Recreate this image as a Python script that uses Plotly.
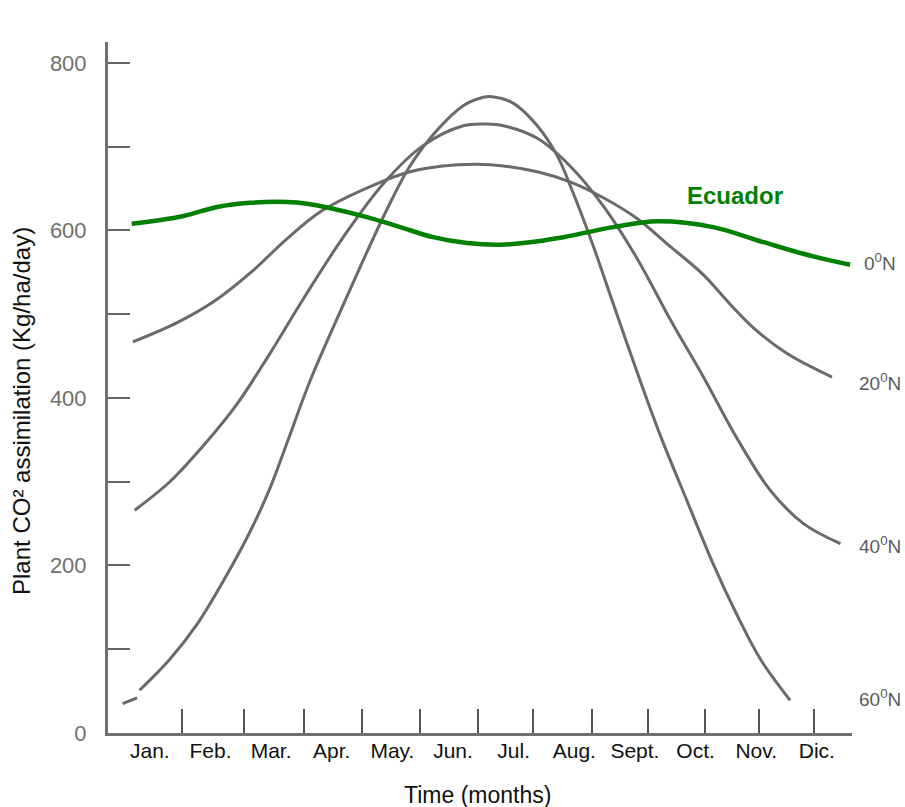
import plotly.graph_objects as go

# Month label positions (index) and tick labels
months = ["Jan.", "Feb.", "Mar.", "Apr.", "May.", "Jun.", "Jul.", "Aug.", "Sept.", "Oct.", "Nov.", "Dic."]
month_pos = list(range(12))
# x-axis tick marks (between months)
x_tick_marks = [0.53, 1.55, 2.54, 3.50, 4.46, 5.41, 6.32, 7.29, 8.22, 9.16, 10.05, 10.96]

y_labels_vals = [0, 200, 400, 600, 800]
y_labels_text = ["0", "200", "400", "600", "800"]
y_minor_vals = [100, 300, 500, 700]

# Ecuador (green)
ecu_x = [-0.30, 0.54, 1.11, 1.65, 2.26, 2.59, 3.02, 3.58, 4.13, 4.67, 5.23, 5.78, 6.16, 6.82, 7.64, 8.37, 9.29, 10.12, 10.94, 11.55]
ecu_y = [608, 617, 628, 633, 634, 632, 626, 616, 604, 592, 585, 583, 585, 592, 604, 611, 604, 586, 569, 559]

# 20 N
n20_x = [-0.28, 0.45, 1.11, 1.70, 2.26, 2.85, 3.75, 4.29, 4.83, 5.40, 5.83, 6.39, 6.93, 7.48, 8.04, 8.58, 9.13, 9.57, 9.95, 10.51, 11.25]
n20_y = [467, 490, 518, 552, 590, 624, 656, 670, 677, 679, 677, 670, 658, 639, 614, 581, 547, 512, 484, 453, 425]

# 40 N
n40_x = [-0.25, 0.33, 0.87, 1.44, 1.98, 2.52, 3.19, 3.84, 4.50, 5.17, 5.56, 5.83, 6.39, 6.93, 7.48, 8.04, 8.58, 9.13, 9.69, 10.23, 10.78, 11.39]
n40_y = [266, 300, 342, 393, 453, 517, 592, 655, 701, 725, 727, 725, 710, 677, 629, 566, 494, 425, 351, 290, 250, 226]

# 60 N (small gap near the start, as in the original drawing)
n60_x = [-0.45, -0.21, None, -0.17, 0.33, 0.78, 1.20, 1.65, 1.98, 2.26, 2.64, 3.09, 3.51, 3.91, 4.29, 4.74, 5.17, 5.50, 5.61, 5.99, 6.39, 6.72, 6.98, 7.31, 7.64, 8.04, 8.42, 8.86, 9.29, 9.69, 10.07, 10.56]
n60_y = [35, 42, None, 51, 88, 130, 180, 240, 292, 346, 420, 495, 563, 625, 677, 720, 749, 759, 760, 752, 725, 689, 645, 582, 513, 430, 355, 277, 202, 140, 88, 39]

lat_labels = ["0<sup>0</sup>N", "20<sup>0</sup>N", "40<sup>0</sup>N", "60<sup>0</sup>N"]
lat_label_y = [562, 419, 224, 42]

GREY = "#6a6a6a"
GREEN = "#008000"
SANS = "Liberation Sans, Arial, Helvetica, sans-serif"

fig = go.Figure()
for xs, ys in [(n20_x, n20_y), (n40_x, n40_y), (n60_x, n60_y)]:
    fig.add_trace(go.Scatter(x=xs, y=ys, mode="lines",
                             line=dict(color=GREY, width=3, shape="spline", smoothing=1.0),
                             connectgaps=False, showlegend=False, hoverinfo="skip"))
fig.add_trace(go.Scatter(x=ecu_x, y=ecu_y, mode="lines",
                         line=dict(color=GREEN, width=4.5, shape="spline", smoothing=1.0),
                         showlegend=False, hoverinfo="skip"))

annotations = []
for txt, yv in zip(lat_labels, lat_label_y):
    annotations.append(dict(text=txt, xref="paper", yref="y", x=1.0376, y=yv,
                            xanchor="center", yanchor="middle", showarrow=False,
                            font=dict(family=SANS, size=19, color="#5a5a5a")))
annotations.append(dict(text="<b>Ecuador</b>", xref="paper", yref="y", x=0.843, y=642,
                        xanchor="center", yanchor="middle", showarrow=False,
                        font=dict(family=SANS, size=24, color=GREEN)))
annotations.append(dict(text="Plant CO² assimilation (Kg/ha/day)", xref="paper", yref="paper",
                        x=-0.1156, y=0.466, xanchor="center", yanchor="middle", textangle=-90,
                        showarrow=False, font=dict(family=SANS, size=24, color="#111111")))
annotations.append(dict(text="Time (months)", xref="paper", yref="paper",
                        x=0.497, y=-0.0897, xanchor="center", yanchor="middle",
                        showarrow=False, font=dict(family=SANS, size=23, color="#111111")))

fig.update_layout(
    width=905, height=807,
    margin=dict(l=108, r=53, t=42, b=74),
    paper_bgcolor="white", plot_bgcolor="white",
    annotations=annotations,
    xaxis=dict(range=[-0.69, 11.58], showgrid=False, zeroline=False,
               showline=True, linecolor="#707070", linewidth=3,
               tickmode="array", tickvals=month_pos, ticktext=months, ticks="",
               ticklabelstandoff=-3,
               tickfont=dict(family=SANS, size=21, color="#111111"),
               minor=dict(tickmode="array", tickvals=x_tick_marks, ticks="inside",
                          ticklen=24, tickwidth=1.5, tickcolor="#555555", showgrid=False)),
    yaxis=dict(range=[0, 825], showgrid=False, zeroline=False,
               showline=True, linecolor="#707070", linewidth=3,
               tickmode="array", tickvals=y_labels_vals, ticktext=y_labels_text,
               ticks="inside", ticklen=22, tickwidth=1.5, tickcolor="#666666",
               ticklabelstandoff=14,
               tickfont=dict(family=SANS, size=22, color="#707070"),
               minor=dict(tickmode="array", tickvals=y_minor_vals, ticks="inside",
                          ticklen=22, tickwidth=1.5, tickcolor="#666666", showgrid=False)),
)

# remove the browser's default 8px body margin so the figure fills the window exactly
fig.write_html("out.html", config={"displayModeBar": False},
               post_script="document.body.style.margin='0';document.body.style.overflow='hidden';")
